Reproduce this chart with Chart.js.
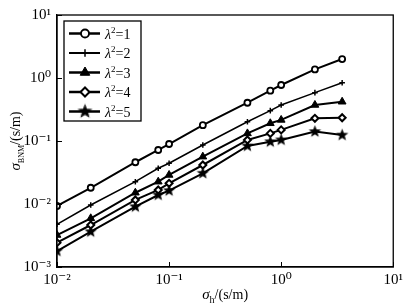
<!DOCTYPE html>
<html>
<head>
<meta charset="utf-8">
<script src="https://cdn.jsdelivr.net/npm/chart.js@4.4.1/dist/chart.umd.min.js"></script>
<style>
  html, body { margin: 0; padding: 0; background: #fff; }
  canvas { display: block; }
</style>
</head>
<body>
<canvas id="sigmaChart" width="407" height="305"></canvas>
<script>
const sigmaH = [0.01, 0.02, 0.05, 0.08, 0.1, 0.2, 0.5, 0.8, 1, 2, 3.5];
const lambda1 = [0.0093, 0.0181, 0.046, 0.072, 0.0896, 0.178, 0.405, 0.63, 0.774, 1.37, 2.0];
const lambda2 = [0.00476, 0.00964, 0.0226, 0.0369, 0.0443, 0.0865, 0.202, 0.303, 0.373, 0.585, 0.842];
const lambda3 = [0.00322, 0.00593, 0.0151, 0.0226, 0.0289, 0.0564, 0.132, 0.191, 0.216, 0.373, 0.42];
const lambda4 = [0.00243, 0.00464, 0.0116, 0.0167, 0.0213, 0.0416, 0.104, 0.132, 0.150, 0.229, 0.234];
const lambda5 = [0.00179, 0.00363, 0.00906, 0.0139, 0.0163, 0.0307, 0.0833, 0.0975, 0.104, 0.141, 0.124];
const seriesNames = ['1', '2', '3', '4', '5'];
const xTicks = [0.01, 0.1, 1, 10];
const yTicks = [0.001, 0.01, 0.1, 1, 10];

const serif = '"Liberation Serif", "DejaVu Serif", serif';

// filled five-pointed star used as a marker
function makeStar(r) {
    const c = document.createElement('canvas');
    const s = Math.ceil(r * 2 + 2);
    c.width = s; c.height = s;
    const g = c.getContext('2d');
    g.beginPath();
    for (let i = 0; i < 10; i++) {
        const a = -Math.PI / 2 + i * Math.PI / 5;
        const rr = i % 2 ? r * 0.42 : r;
        const px = s / 2 + rr * Math.cos(a), py = s / 2 + rr * Math.sin(a);
        i ? g.lineTo(px, py) : g.moveTo(px, py);
    }
    g.closePath();
    g.fillStyle = '#000';
    g.fill();
    return c;
}
const star = makeStar(6.5);

const markers = [
    { pointStyle: 'circle', pointRadius: 3, pointBackgroundColor: '#fff', pointBorderWidth: 1.8, borderWidth: 2 },
    { pointStyle: 'cross', pointRadius: 2.8, pointBackgroundColor: '#000', pointBorderWidth: 1.5, borderWidth: 1.5 },
    { pointStyle: 'triangle', pointRadius: 4.5, pointBackgroundColor: '#000', pointBorderWidth: 1, borderWidth: 2 },
    { pointStyle: 'rectRot', pointRadius: 3.5, pointBackgroundColor: '#fff', pointBorderWidth: 2, borderWidth: 2 },
    { pointStyle: star, pointRadius: 6.5, pointBackgroundColor: '#000', pointBorderWidth: 1, borderWidth: 2 }
];

const allSeries = [lambda1, lambda2, lambda3, lambda4, lambda5];
const datasets = allSeries.map((vals, i) => Object.assign({
    label: 'λ²=' + seriesNames[i],
    data: vals.map((v, j) => ({ x: sigmaH[j], y: v })),
    borderColor: '#000',
    pointBorderColor: '#000',
    fill: false,
    tension: 0
}, markers[i]));

const supDigits = { '-': '⁻', '0': '⁰', '1': '¹', '2': '²', '3': '³' };
function powerLabel(v) {
    const e = Math.round(Math.log10(v));
    return '10' + String(e).split('').map(ch => supDigits[ch]).join('');
}

// draws text pieces: [text, fontSize, italic, baselineShift]
function drawPieces(ctx, pieces, x, y) {
    let cx = x;
    pieces.forEach(p => {
        ctx.font = (p[2] ? 'italic ' : '') + p[1] + 'px ' + serif;
        ctx.fillText(p[0], cx, y + p[3]);
        cx += ctx.measureText(p[0]).width;
    });
    return cx - x;
}
function piecesWidth(ctx, pieces) {
    let w = 0;
    pieces.forEach(p => {
        ctx.font = (p[2] ? 'italic ' : '') + p[1] + 'px ' + serif;
        w += ctx.measureText(p[0]).width;
    });
    return w;
}

const framePlugin = {
    id: 'frame',
    afterDraw(chart) {
        const { ctx, chartArea: a, scales } = chart;
        ctx.save();
        ctx.strokeStyle = '#000';
        ctx.lineWidth = 1.3;
        ctx.strokeRect(a.left, a.top, a.right - a.left, a.bottom - a.top);
        // inward ticks
        ctx.lineWidth = 1;
        ctx.beginPath();
        xTicks.forEach(v => {
            const px = Math.round(scales.x.getPixelForValue(v)) + 0.5;
            ctx.moveTo(px, a.bottom); ctx.lineTo(px, a.bottom - 5);
        });
        yTicks.forEach(v => {
            const py = Math.round(scales.y.getPixelForValue(v)) + 0.5;
            ctx.moveTo(a.left, py); ctx.lineTo(a.left + 5, py);
        });
        ctx.stroke();

        ctx.fillStyle = '#000';
        ctx.textBaseline = 'alphabetic';
        // x title
        const xt = [['σ', 15, true, 0], ['h', 10, false, 4], ['/(s/m)', 14, false, 0]];
        const cxm = (a.left + a.right) / 2;
        drawPieces(ctx, xt, cxm - piecesWidth(ctx, xt) / 2, 299);
        // y title
        const yt = [['σ', 15, true, 0], ['BNM', 8, false, 4], ['/(s/m)', 14, false, 0]];
        ctx.translate(20, (a.top + a.bottom) / 2);
        ctx.rotate(-Math.PI / 2);
        drawPieces(ctx, yt, -piecesWidth(ctx, yt) / 2, 0);
        ctx.restore();

        // legend box
        ctx.save();
        const bx = 64, by = 21, bw = 77, bh = 100;
        ctx.fillStyle = '#fff';
        ctx.fillRect(bx, by, bw, bh);
        ctx.strokeStyle = '#000';
        ctx.lineWidth = 1.3;
        ctx.strokeRect(bx, by, bw, bh);
        chart.data.datasets.forEach((ds, i) => {
            const ry = 33.5 + i * 19.5;
            ctx.strokeStyle = '#000';
            ctx.lineWidth = ds.borderWidth + 0.5;
            ctx.beginPath();
            ctx.moveTo(69, ry); ctx.lineTo(100, ry);
            ctx.stroke();
            if (ds.pointStyle instanceof HTMLCanvasElement) {
                const s = ds.pointStyle.width + 3;
                ctx.drawImage(ds.pointStyle, 85 - s / 2, ry - s / 2, s, s);
            } else {
                ctx.fillStyle = ds.pointBackgroundColor;
                ctx.lineWidth = ds.pointBorderWidth;
                Chart.helpers.drawPoint(ctx, {
                    pointStyle: ds.pointStyle, radius: ds.pointRadius + 1,
                    rotation: 0, borderWidth: ds.pointBorderWidth
                }, 85, ry);
            }
            ctx.fillStyle = '#000';
            drawPieces(ctx, [['λ', 14, true, 0], ['2', 9, false, -6], ['=' + seriesNames[i], 14, false, 0]], 105, ry + 5);
        });
        ctx.restore();
    }
};

new Chart(document.getElementById('sigmaChart').getContext('2d'), {
    type: 'line',
    data: { datasets: datasets },
    options: {
        responsive: false,
        animation: false,
        devicePixelRatio: 1,
        layout: { padding: { top: 15, right: 12, bottom: 0, left: 0 } },
        plugins: { legend: { display: false }, tooltip: { enabled: false } },
        scales: {
            x: {
                type: 'logarithmic',
                min: 0.01, max: 10,
                afterBuildTicks: s => { s.ticks = xTicks.map(v => ({ value: v })); },
                afterFit: s => { s.height = 38; },
                grid: { display: false, drawTicks: false },
                border: { color: '#000', width: 1.3 },
                ticks: {
                    color: '#000', padding: 4, maxRotation: 0,
                    font: { family: serif, size: 15 },
                    callback: v => powerLabel(v)
                }
            },
            y: {
                type: 'logarithmic',
                min: 0.001, max: 10,
                afterBuildTicks: s => { s.ticks = yTicks.map(v => ({ value: v })); },
                afterFit: s => { s.width = 57; },
                grid: { display: false, drawTicks: false },
                border: { color: '#000', width: 1.3 },
                ticks: {
                    color: '#000', padding: 6,
                    font: { family: serif, size: 15 },
                    callback: v => powerLabel(v)
                }
            }
        }
    },
    plugins: [framePlugin]
});
</script>
</body>
</html>
